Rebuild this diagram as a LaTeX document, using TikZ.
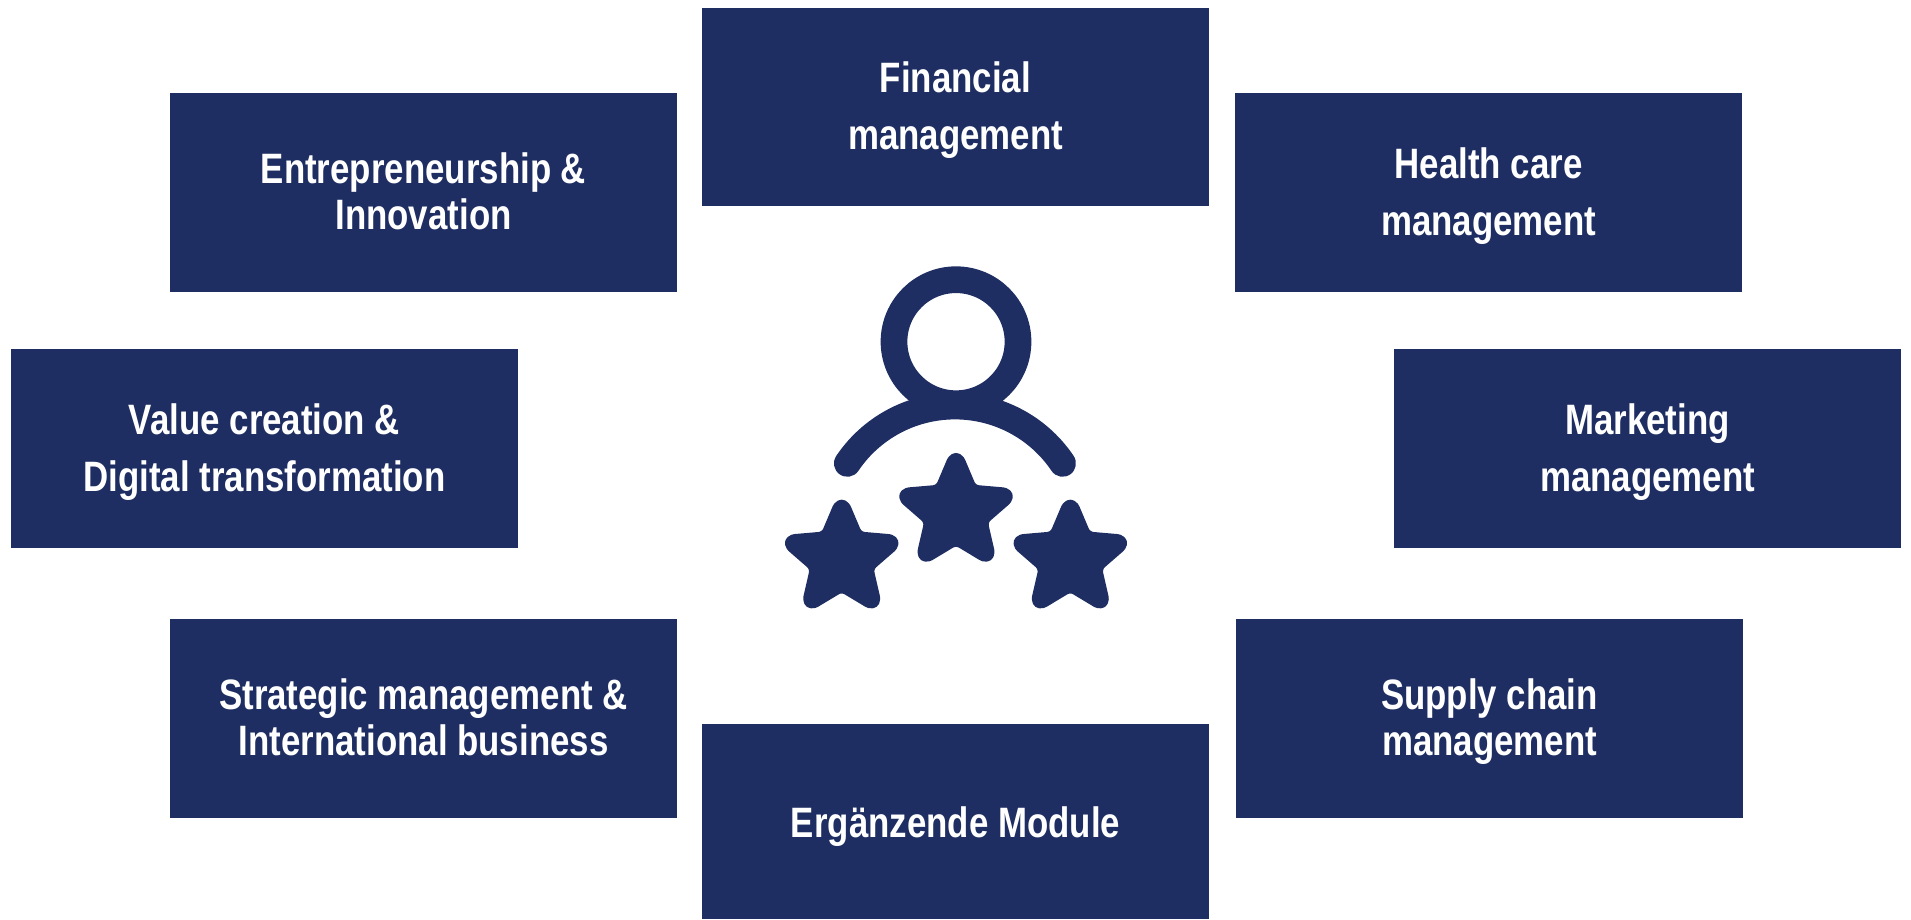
\documentclass[tikz,border=0pt]{standalone}
\usepackage{fontspec}
\setmainfont[FakeStretch=0.82]{Liberation Sans}
\definecolor{navy}{HTML}{1F2E62}
\newcommand\hs{\rule{0pt}{40pt}}
\newcommand\ds{\rule[-12pt]{0pt}{12pt}}
\tikzset{
  modulebox/.style={fill=navy,text=white,minimum width=507pt,minimum height=199pt,inner sep=0pt,outer sep=0pt,align=center,font=\bfseries\fontsize{42.5}{46}\selectfont},
  widelines/.style={font=\bfseries\fontsize{42.5}{57}\selectfont},
  iconstroke/.style={draw=navy,line width=26.7pt,line cap=round},
  iconstar/.pic={
    \filldraw[navy,line width=14pt,line join=round,rounded corners=7pt] (0,-56) -- (15,-20.6) -- (53.3,-17.3) -- (24.3,7.9) -- (32.9,45.3) -- (0,25.5) -- (-32.9,45.3) -- (-24.3,7.9) -- (-53.3,-17.3) -- (-15,-20.6) -- cycle;
  }
}
\begin{document}
\begin{tikzpicture}[x=1pt,y=-1pt]
\useasboundingbox (0,0) rectangle (1911,919);
\node[modulebox,widelines,minimum height=198pt] (fin) at (955.5,107) {\hs Financial\\management\ds};
\node[modulebox] (ent) at (423.5,192.5) {\hs Entrepreneurship \&\\Innovation\ds};
\node[modulebox,widelines] (hea) at (1488.5,192.5) {\hs Health care\\management\ds};
\node[modulebox,widelines] (val) at (264.5,448.5) {\hs Value creation \&\\Digital transformation\ds};
\node[modulebox,widelines] (mar) at (1647.5,448.5) {\hs Marketing\\management\ds};
\node[modulebox] (str) at (423.5,718.5) {\hs Strategic management \&\\International business\ds};
\node[modulebox] (sup) at (1489.5,718.5) {\hs Supply chain\\management\ds};
\node[modulebox,minimum height=195pt] (erg) at (955.5,821.5) {\rule{0pt}{43pt}Ergänzende Module\ds};
\draw[iconstroke] (956,341.7) circle (62);
\draw[iconstroke] (847.3,463.4) arc[start angle=-146.1,end angle=-33.9,radius=129.7];
\pic at (956,512.2) {iconstar};
\pic at (841.7,558.9) {iconstar};
\pic at (1070.3,558.9) {iconstar};
\end{tikzpicture}
\end{document}
